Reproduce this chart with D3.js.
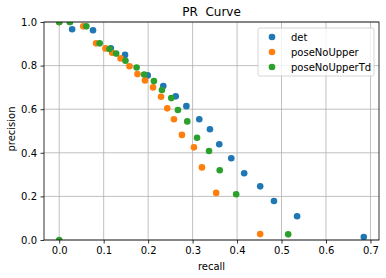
<!DOCTYPE html>
<html>
<head>
<meta charset="utf-8" />
<title>PR Curve</title>
<style>
* { padding: 0; margin: 0; }
body { background: #fff; }
#chart { width: 386px; height: 278px; }
text { font-family: "DejaVu Sans", sans-serif; fill: #000; }
</style>
</head>
<body>
<div id="chart"></div>
<script src="https://cdn.jsdelivr.net/npm/d3@7"></script>
<script>
    // values: [recall, precision]
    var seriesNames = ["det", "poseNoUpper", "poseNoUpperTd"]
    var seriesColors = ["#1f77b4", "#ff7f0e", "#2ca02c"]

    var detPoints = [
        [0.0, 1.0], [0.024, 1.0], [0.029, 0.967], [0.076, 0.962], [0.116, 0.879],
        [0.148, 0.849], [0.199, 0.755], [0.234, 0.706], [0.262, 0.659], [0.286, 0.614],
        [0.315, 0.554], [0.339, 0.508], [0.360, 0.439], [0.387, 0.375], [0.416, 0.306],
        [0.452, 0.246], [0.483, 0.179], [0.535, 0.109], [0.685, 0.014]
    ]
    var poseNoUpperPoints = [
        [0.0, 1.0], [0.054, 0.98], [0.083, 0.902], [0.104, 0.879], [0.119, 0.859],
        [0.138, 0.833], [0.158, 0.797], [0.176, 0.761], [0.193, 0.732], [0.211, 0.700],
        [0.229, 0.657], [0.243, 0.604], [0.258, 0.554], [0.276, 0.482], [0.303, 0.425],
        [0.321, 0.333], [0.353, 0.216], [0.452, 0.027]
    ]
    var poseNoUpperTdPoints = [
        [0.0, 0.0], [0.0, 1.0], [0.024, 1.0], [0.061, 0.98], [0.091, 0.902],
        [0.113, 0.876], [0.128, 0.855], [0.149, 0.822], [0.174, 0.791], [0.191, 0.759],
        [0.213, 0.729], [0.231, 0.688], [0.252, 0.651], [0.267, 0.596], [0.288, 0.544],
        [0.310, 0.469], [0.337, 0.408], [0.361, 0.320], [0.398, 0.210], [0.515, 0.026]
    ]
    var xTicks = [0, 0.1, 0.2, 0.3, 0.4, 0.5, 0.6, 0.7]
    var yTicks = [0, 0.2, 0.4, 0.6, 0.8, 1.0]

    var allSeries = [detPoints, poseNoUpperPoints, poseNoUpperTdPoints]

    var width = 386, height = 278
    var margin = {top: 22, left: 44, bottom: 38, right: 7}
    var chartWidth = width - margin.left - margin.right
    var chartHeight = height - margin.top - margin.bottom

    var svg = d3.select("#chart").append("svg")
        .attr("width", width).attr("height", height)

    // matplotlib style 5% margin on x
    var xMax = d3.max(allSeries, function(s) { return d3.max(s, function(d) { return d[0] }) })
    var pad = xMax * 0.05
    var x = d3.scaleLinear().domain([-pad, xMax + pad]).range([0, chartWidth])
    var y = d3.scaleLinear().domain([0, 1]).range([chartHeight, 0])

    var g = svg.append("g").attr("transform", "translate(" + margin.left + "," + margin.top + ")")

    svg.append("defs").append("clipPath").attr("id", "clip")
        .append("rect").attr("width", chartWidth).attr("height", chartHeight)

    // grid
    g.append("g").selectAll("line").data(xTicks).enter().append("line")
        .attr("x1", function(d) { return x(d) }).attr("x2", function(d) { return x(d) })
        .attr("y1", 0).attr("y2", chartHeight)
        .attr("stroke", "#b0b0b0").attr("stroke-width", 0.8)
    g.append("g").selectAll("line").data(yTicks).enter().append("line")
        .attr("y1", function(d) { return y(d) }).attr("y2", function(d) { return y(d) })
        .attr("x1", 0).attr("x2", chartWidth)
        .attr("stroke", "#b0b0b0").attr("stroke-width", 0.8)

    // points
    var pts = g.append("g").attr("clip-path", "url(#clip)")
    allSeries.forEach(function(s, i) {
        pts.append("g").selectAll("circle").data(s).enter().append("circle")
            .attr("cx", function(d) { return x(d[0]) })
            .attr("cy", function(d) { return y(d[1]) })
            .attr("r", 3.3)
            .attr("fill", seriesColors[i])
    })

    // axes
    var xAxis = g.append("g").attr("transform", "translate(0," + chartHeight + ")")
        .call(d3.axisBottom(x).tickValues(xTicks).tickFormat(d3.format(".1f")).tickSize(3.5).tickPadding(3.5))
    var yAxis = g.append("g")
        .call(d3.axisLeft(y).tickValues(yTicks).tickFormat(d3.format(".1f")).tickSize(3.5).tickPadding(3.5))
    ;[xAxis, yAxis].forEach(function(a) {
        a.select(".domain").remove()
        a.selectAll("line").attr("stroke", "#000").attr("stroke-width", 0.8)
        a.selectAll("text").style("font-family", "DejaVu Sans").style("font-size", "10px").attr("fill", "#000")
    })

    g.append("rect").attr("width", chartWidth).attr("height", chartHeight)
        .attr("fill", "none").attr("stroke", "#000").attr("stroke-width", 0.8)

    // labels
    svg.append("text").attr("x", margin.left + chartWidth / 2).attr("y", 16)
        .attr("text-anchor", "middle").style("font-size", "12px").text("PR  Curve")
        .attr("xml:space", "preserve").style("white-space", "pre")
    svg.append("text").attr("x", margin.left + chartWidth / 2).attr("y", 270)
        .attr("text-anchor", "middle").style("font-size", "10px").text("recall")
    svg.append("text").attr("transform", "translate(15," + (margin.top + chartHeight / 2 - 2) + ") rotate(-90)")
        .attr("text-anchor", "middle").style("font-size", "10px").text("precision")

    // legend
    var legend = g.append("g").attr("transform", "translate(" + (chartWidth - 121) + ",6)")
    legend.append("rect").attr("width", 116).attr("height", 48).attr("rx", 2)
        .attr("fill", "#fff").attr("fill-opacity", 0.8).attr("stroke", "#cccccc").attr("stroke-width", 0.8)
    seriesNames.forEach(function(name, i) {
        var row = legend.append("g").attr("transform", "translate(0," + (9 + i * 15) + ")")
        row.append("circle").attr("cx", 14).attr("cy", 0).attr("r", 3.3).attr("fill", seriesColors[i])
        row.append("text").attr("x", 33).attr("y", 3.6).style("font-size", "10px").text(name)
    })
</script>
</body>
</html>
